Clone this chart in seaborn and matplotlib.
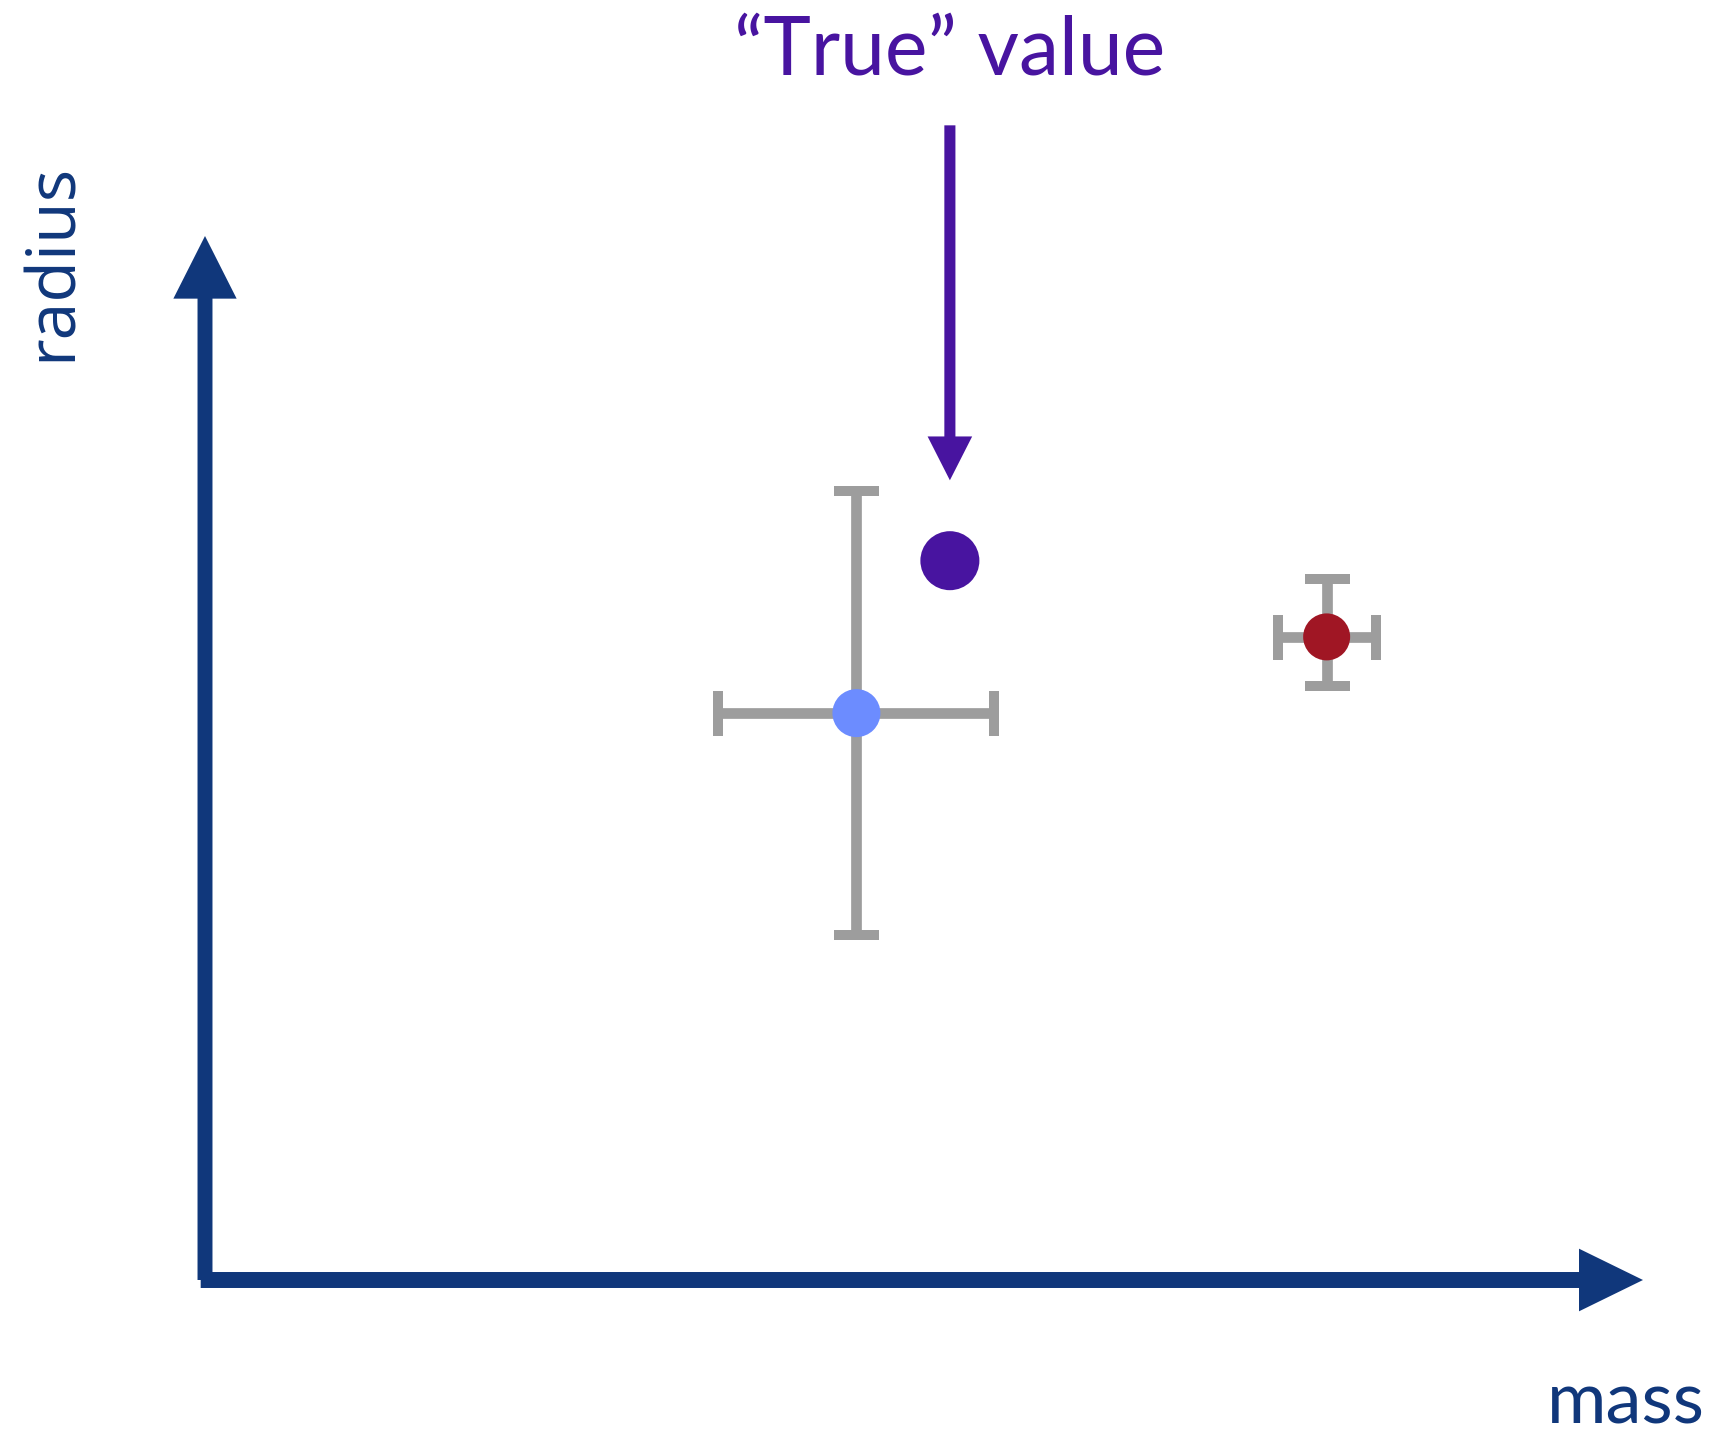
import pandas as pd
import matplotlib
matplotlib.use("Agg")
import matplotlib.pyplot as plt
import matplotlib.patches as mpatches
import seaborn as sns

# --------------------------------------------------------------------
# DATA (arbitrary units, axes run 0..10 on both directions)
# --------------------------------------------------------------------
kinds = ["measured", "true", "precise"]
mass = [4.53, 5.18, 7.80]
radius = [5.43, 6.89, 6.16]
mass_err = [0.96, 0.0, 0.34]
radius_err_low = [2.13, 0.0, 0.47]
radius_err_high = [2.13, 0.0, 0.55]

AXIS_BLUE = "#10377b"
PURPLE = "#4814a0"
GREY = "#9d9d9d"
palette = {"measured": "#6c8cff", "true": PURPLE, "precise": "#a01624"}
marker_sizes = {"measured": 1194, "true": 1805, "precise": 1145}

df = pd.DataFrame({"kind": kinds, "mass": mass, "radius": radius,
                   "xerr": mass_err, "ylo": radius_err_low, "yhi": radius_err_high})

# --------------------------------------------------------------------
# FIGURE
# --------------------------------------------------------------------
sns.set_theme(style="white")
plt.rcParams["font.family"] = ["Lato", "DejaVu Sans"]

fig = plt.figure(figsize=(17.14, 14.39), dpi=100)
ax = fig.add_axes([205 / 1714, 159 / 1439, 1438 / 1714, 1044 / 1439])
ax.set_xlim(0, 10)
ax.set_ylim(0, 10)
ax.set_axis_off()

# error bars for the two measurements (capsize is half the cap length)
err = df[df["xerr"] > 0]
ax.errorbar(err["mass"], err["radius"], xerr=err["xerr"],
            yerr=[err["ylo"], err["yhi"]], fmt="none", ecolor=GREY,
            elinewidth=7.7, capsize=16.2, capthick=7.2, zorder=2, clip_on=False)

sns.scatterplot(data=df, x="mass", y="radius", hue="kind", palette=palette,
                size="kind", sizes=marker_sizes, linewidth=0, legend=False,
                ax=ax, zorder=3, clip_on=False)

# axis arrows
ax.add_patch(mpatches.FancyArrow(0, 0, 0, 10, width=0.104, head_width=0.44,
                                 head_length=0.60, length_includes_head=True,
                                 color=AXIS_BLUE, lw=0, clip_on=False))
ax.add_patch(mpatches.FancyArrow(-0.03, 0, 10.03, 0, width=0.153, head_width=0.60,
                                 head_length=0.445, length_includes_head=True,
                                 color=AXIS_BLUE, lw=0, clip_on=False))

# "True" value pointer
tx, ty = df.loc[df["kind"] == "true", ["mass", "radius"]].iloc[0]
ax.add_patch(mpatches.FancyArrow(tx, 11.06, 0, 7.66 - 11.06, width=0.077,
                                 head_width=0.31, head_length=0.42,
                                 length_includes_head=True, color=PURPLE,
                                 lw=0, clip_on=False))
ax.text(tx, 11.55, "\u201cTrue\u201d value", color=PURPLE, fontsize=58,
        ha="center", va="baseline", clip_on=False)

# axis labels
fig.text(1705 / 1714, 1 - 1423 / 1439, "mass", color=AXIS_BLUE, fontsize=52,
         ha="right", va="baseline")
fig.text(53 / 1714, 1 - 262 / 1439, "radius", color=AXIS_BLUE, fontsize=49,
         rotation=90, ha="center", va="center", family=["Open Sans", "DejaVu Sans"])

fig.savefig("out.png", dpi=100)
